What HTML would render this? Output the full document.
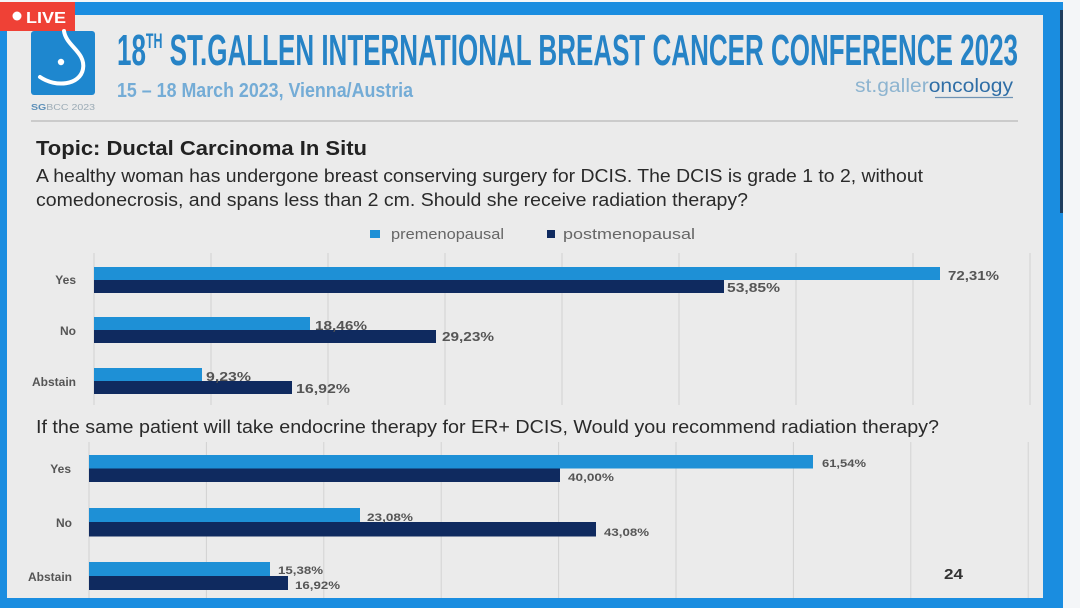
<!DOCTYPE html>
<html>
<head>
<meta charset="utf-8">
<style>
  html,body{margin:0;padding:0;background:#f4f6f8;}
  svg{display:block;}
  text{font-family:"Liberation Sans", Arial, sans-serif;}
</style>
</head>
<body>
<svg width="1080" height="608" viewBox="0 0 1080 608" xmlns="http://www.w3.org/2000/svg">
  <!-- background frame -->
  <rect x="0" y="0" width="1080" height="608" fill="#f4f6f8"/>
  <rect x="0" y="2" width="1063" height="606" fill="#1a8de0"/>
  <rect x="1060" y="10" width="3" height="203" fill="#1d3d5e"/>
  <!-- slide -->
  <rect x="7" y="15" width="1036" height="583" fill="#ebebeb"/>

  <!-- LIVE badge -->
  <rect x="0" y="2" width="75" height="29" fill="#ef4136"/>
  <circle cx="17" cy="16" r="4.5" fill="#fff"/>
  <text x="26" y="23" font-size="16" font-weight="bold" fill="#fff" textLength="40" lengthAdjust="spacingAndGlyphs">LIVE</text>

  <!-- logo -->
  <rect x="31" y="31" width="64" height="64" rx="3" fill="#1e87cf"/>
  <path d="M64,31 C66,46 86,52 83,69 C80,85 56,88 40,77" stroke="#fff" stroke-width="4" fill="none" stroke-linecap="round"/>
  <circle cx="61" cy="62" r="3.2" fill="#fff"/>
  <text x="31" y="110" font-size="8.5" fill="#9aaab5" textLength="64" lengthAdjust="spacingAndGlyphs"><tspan fill="#5c8fb8" font-weight="bold">SG</tspan>BCC 2023</text>

  <!-- title -->
  <text x="117" y="65" font-size="44" font-weight="bold" fill="#2683c6" textLength="901" lengthAdjust="spacingAndGlyphs">18<tspan font-size="21" dy="-17">TH</tspan><tspan dy="17"> ST.GALLEN INTERNATIONAL BREAST CANCER CONFERENCE 2023</tspan></text>
  <text x="117" y="97" font-size="20" font-weight="bold" fill="#74acd6" textLength="296" lengthAdjust="spacingAndGlyphs">15 – 18 March 2023, Vienna/Austria</text>
  <text x="855" y="92" font-size="19" fill="#8db4d0" textLength="158" lengthAdjust="spacingAndGlyphs">st.galler<tspan fill="#2f6ea6">oncology</tspan></text>
  <line x1="935" y1="97.5" x2="1013" y2="97.5" stroke="#3b6f9e" stroke-width="1.2" opacity="0.7"/>
  <line x1="31" y1="121" x2="1018" y2="121" stroke="#b8b8b8" stroke-width="1.3"/>

  <!-- topic & question 1 -->
  <text x="36" y="155" font-size="20" font-weight="bold" fill="#222" textLength="331" lengthAdjust="spacingAndGlyphs">Topic: Ductal Carcinoma In Situ</text>
  <text x="36" y="182" font-size="18" fill="#2a2a2a" textLength="887" lengthAdjust="spacingAndGlyphs">A healthy woman has undergone breast conserving surgery for DCIS. The DCIS is grade 1 to 2, without</text>
  <text x="36" y="206" font-size="18" fill="#2a2a2a" textLength="712" lengthAdjust="spacingAndGlyphs">comedonecrosis, and spans less than 2 cm. Should she receive radiation therapy?</text>

  <!-- legend -->
  <rect x="370" y="230" width="10" height="8" fill="#1e90d6"/>
  <text x="391" y="239" font-size="15" fill="#666" textLength="113" lengthAdjust="spacingAndGlyphs">premenopausal</text>
  <rect x="547" y="230" width="8" height="8" fill="#0f2a5f"/>
  <text x="563" y="239" font-size="15" fill="#666" textLength="132" lengthAdjust="spacingAndGlyphs">postmenopausal</text>

  <!-- chart 1 gridlines -->
  <g stroke="#d2d2d2" stroke-width="1">
    <line x1="94" y1="253" x2="94" y2="405"/>
    <line x1="211" y1="253" x2="211" y2="405"/>
    <line x1="328" y1="253" x2="328" y2="405"/>
    <line x1="445" y1="253" x2="445" y2="405"/>
    <line x1="562" y1="253" x2="562" y2="405"/>
    <line x1="679" y1="253" x2="679" y2="405"/>
    <line x1="796" y1="253" x2="796" y2="405"/>
    <line x1="913" y1="253" x2="913" y2="405"/>
    <line x1="1030" y1="253" x2="1030" y2="405"/>
  </g>
  <!-- chart 1 bars -->
  <rect x="94" y="267" width="846" height="13" fill="#1e90d6"/>
  <rect x="94" y="280" width="630" height="13" fill="#0f2a5f"/>
  <rect x="94" y="317" width="216" height="13" fill="#1e90d6"/>
  <rect x="94" y="330" width="342" height="13" fill="#0f2a5f"/>
  <rect x="94" y="368" width="108" height="13" fill="#1e90d6"/>
  <rect x="94" y="381" width="198" height="13" fill="#0f2a5f"/>
  <!-- chart 1 category labels -->
  <g font-size="12" font-weight="bold" fill="#555" text-anchor="end">
    <text x="76" y="284">Yes</text>
    <text x="76" y="335">No</text>
    <text x="76" y="386">Abstain</text>
  </g>
  <!-- chart 1 data labels -->
  <g font-size="13" font-weight="bold" fill="#555">
    <text x="948" y="280" textLength="51" lengthAdjust="spacingAndGlyphs">72,31%</text>
    <text x="727" y="292" textLength="53" lengthAdjust="spacingAndGlyphs">53,85%</text>
    <text x="315" y="330" textLength="52" lengthAdjust="spacingAndGlyphs">18,46%</text>
    <text x="442" y="341" textLength="52" lengthAdjust="spacingAndGlyphs">29,23%</text>
    <text x="206" y="381" textLength="45" lengthAdjust="spacingAndGlyphs">9,23%</text>
    <text x="296" y="393" textLength="54" lengthAdjust="spacingAndGlyphs">16,92%</text>
  </g>

  <!-- question 2 -->
  <text x="36" y="433" font-size="18" fill="#2a2a2a" textLength="903" lengthAdjust="spacingAndGlyphs">If the same patient will take endocrine therapy for ER+ DCIS, Would you recommend radiation therapy?</text>

  <!-- chart 2 gridlines -->
  <g stroke="#d2d2d2" stroke-width="1">
    <line x1="89" y1="442" x2="89" y2="598"/>
    <line x1="206.4" y1="442" x2="206.4" y2="598"/>
    <line x1="323.8" y1="442" x2="323.8" y2="598"/>
    <line x1="441.2" y1="442" x2="441.2" y2="598"/>
    <line x1="558.6" y1="442" x2="558.6" y2="598"/>
    <line x1="676" y1="442" x2="676" y2="598"/>
    <line x1="793.4" y1="442" x2="793.4" y2="598"/>
    <line x1="910.8" y1="442" x2="910.8" y2="598"/>
    <line x1="1028.2" y1="442" x2="1028.2" y2="598"/>
  </g>
  <!-- chart 2 bars -->
  <rect x="89" y="455" width="724" height="13.5" fill="#1e90d6"/>
  <rect x="89" y="468.5" width="471" height="13.5" fill="#0f2a5f"/>
  <rect x="89" y="508" width="271" height="14" fill="#1e90d6"/>
  <rect x="89" y="522" width="507" height="14.5" fill="#0f2a5f"/>
  <rect x="89" y="562" width="181" height="14" fill="#1e90d6"/>
  <rect x="89" y="576" width="199" height="14" fill="#0f2a5f"/>
  <!-- chart 2 category labels -->
  <g font-size="12" font-weight="bold" fill="#555" text-anchor="end">
    <text x="71" y="473">Yes</text>
    <text x="72" y="527">No</text>
    <text x="72" y="581">Abstain</text>
  </g>
  <!-- chart 2 data labels -->
  <g font-size="11" font-weight="bold" fill="#555">
    <text x="822" y="467" textLength="44" lengthAdjust="spacingAndGlyphs">61,54%</text>
    <text x="568" y="481" textLength="46" lengthAdjust="spacingAndGlyphs">40,00%</text>
    <text x="367" y="521" textLength="46" lengthAdjust="spacingAndGlyphs">23,08%</text>
    <text x="604" y="536" textLength="45" lengthAdjust="spacingAndGlyphs">43,08%</text>
    <text x="278" y="574" textLength="45" lengthAdjust="spacingAndGlyphs">15,38%</text>
    <text x="295" y="589" textLength="45" lengthAdjust="spacingAndGlyphs">16,92%</text>
  </g>

  <!-- page number -->
  <text x="944" y="579" font-size="15" font-weight="bold" fill="#333" textLength="19" lengthAdjust="spacingAndGlyphs">24</text>
</svg>
</body>
</html>
